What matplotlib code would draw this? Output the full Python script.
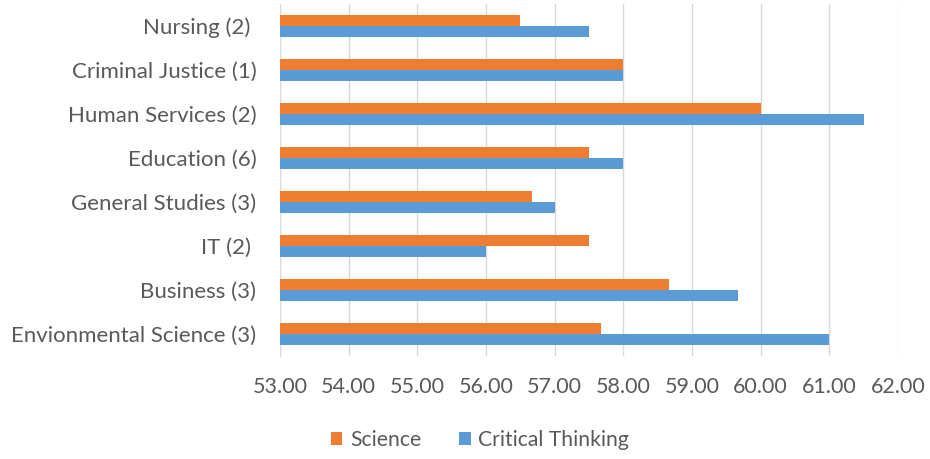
import matplotlib
matplotlib.use("Agg")
import matplotlib.pyplot as plt
import numpy as np

plt.rcParams['font.family'] = ['Lato', 'DejaVu Sans']

# categories listed bottom to top
programs = ['Envionmental Science (3)', 'Business (3)', 'IT (2) ', 'General Studies (3)',
            'Education (6)', 'Human Services (2)', 'Criminal Justice (1)', 'Nursing (2) ']
science = [57.67, 58.67, 57.5, 56.67, 57.5, 60.0, 58.0, 56.5]
critical = [61.0, 59.67, 56.0, 57.0, 58.0, 61.5, 58.0, 57.5]
xticks = [53, 54, 55, 56, 57, 58, 59, 60, 61, 62]

orange = '#ed7d31'
blue = '#5b9bd5'
txt = '#595959'

fig = plt.figure(figsize=(9.3, 4.59), dpi=100)
ax = fig.add_axes([0.301, 0.2244, 0.6645, 0.7669])

y = np.arange(len(programs))
h = 0.25
ax.barh(y + h/2, [v - 53 for v in science], h, left=53, color=orange, label='Science', zorder=3)
ax.barh(y - h/2, [v - 53 for v in critical], h, left=53, color=blue, label='Critical Thinking', zorder=3)

ax.set_xlim(53, 62)
ax.set_ylim(-0.5, len(programs) - 0.5)
ax.set_xticks(xticks)
ax.set_xticklabels(['%.2f' % t for t in xticks], fontsize=15.5, color=txt)
ax.set_yticks(y)
ax.set_yticklabels(programs, fontsize=16, color=txt)
ax.tick_params(axis='both', length=0)
ax.tick_params(axis='x', pad=15)
ax.tick_params(axis='y', pad=17)

ax.grid(axis='x', color='#d9d9d9', linewidth=1, zorder=0)
for s in ['top', 'right', 'bottom']:
    ax.spines[s].set_visible(False)
ax.spines['left'].set_color('#d9d9d9')

leg = fig.legend(loc='center', bbox_to_anchor=(0.516, 0.042), ncol=2, frameon=False,
                 fontsize=15.2, handlelength=0.55, handleheight=0.55, columnspacing=1.8,
                 handletextpad=0.35)
for t in leg.get_texts():
    t.set_color(txt)

fig.savefig('out.png', dpi=100)
